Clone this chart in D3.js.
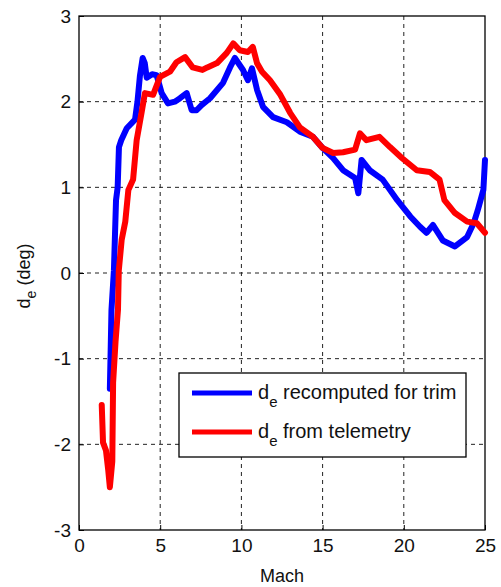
<!DOCTYPE html>
<html>
<head>
<meta charset="utf-8">
<script src="https://cdn.jsdelivr.net/npm/d3@7"></script>
<style>
  body { margin: 0; background: #fff; }
  text { font-family: "Liberation Sans", Arial, sans-serif; fill: #111; }
</style>
</head>
<body>
<div id="chart"></div>
<script>
// values
var blueMach = [1.9,1.95,2.0,2.15,2.28,2.38,2.46,2.6,2.94,3.45,3.6,3.75,3.92,4.05,4.17,4.5,4.78,5.09,5.48,5.9,6.22,6.63,6.94,7.24,7.55,8.07,8.87,9.3,9.6,10.1,10.4,10.65,10.96,11.33,11.95,12.8,13.6,14.4,15.0,15.65,16.26,17.0,17.2,17.4,17.9,18.7,19.6,20.4,21.0,21.4,21.8,22.4,23.15,23.9,24.3,24.55,24.9,25];
var blueDe   = [-1.35,-0.9,-0.43,0.03,0.85,1.0,1.47,1.55,1.69,1.79,2.0,2.3,2.51,2.45,2.28,2.32,2.31,2.1,1.98,2.0,2.04,2.1,1.9,1.9,1.96,2.04,2.22,2.4,2.51,2.37,2.25,2.39,2.14,1.94,1.82,1.76,1.65,1.59,1.46,1.34,1.2,1.11,0.93,1.32,1.2,1.09,0.85,0.66,0.54,0.47,0.56,0.38,0.31,0.42,0.58,0.73,0.97,1.32];

var redMach = [1.4,1.48,1.66,1.8,1.9,2.05,2.1,2.25,2.4,2.45,2.63,2.85,3.04,3.33,3.55,3.86,4.06,4.56,4.99,5.6,6.0,6.53,7.0,7.6,7.9,8.5,9.1,9.5,9.9,10.4,10.7,10.96,11.27,11.76,12.4,13.0,13.6,14.4,15.0,15.65,16.26,17.0,17.3,17.7,18.5,19.15,19.9,20.8,21.6,22.2,22.5,23.15,23.9,24.5,25];
var redDe   = [-1.54,-1.98,-2.07,-2.3,-2.5,-2.2,-1.28,-0.8,-0.43,0.03,0.39,0.6,0.97,1.09,1.55,1.88,2.1,2.08,2.29,2.35,2.46,2.52,2.4,2.37,2.4,2.45,2.57,2.68,2.6,2.58,2.64,2.45,2.35,2.25,2.08,1.87,1.7,1.59,1.46,1.4,1.41,1.44,1.63,1.55,1.59,1.47,1.34,1.2,1.18,1.09,0.85,0.7,0.6,0.58,0.47];

var xTicks = [0,5,10,15,20,25];
var yTicks = [-3,-2,-1,0,1,2,3];
var legendLabels = ["recomputed for trim", "from telemetry"];
var seriesColors = ["#0000ff", "#ff0000"];

var width = 501, height = 587;
var pLeft = 79, pRight = 485, pTop = 16, pBottom = 530;

var svg = d3.select("#chart").append("svg")
    .attr("width", width)
    .attr("height", height);

var x = d3.scaleLinear().domain([0, 25]).range([pLeft, pRight]);
var y = d3.scaleLinear().domain([-3, 3]).range([pBottom, pTop]);

//grid
svg.append("g").selectAll("line")
    .data(xTicks.slice(1, -1))
    .enter().append("line")
    .attr("x1", d => x(d)).attr("x2", d => x(d))
    .attr("y1", pTop).attr("y2", pBottom)
    .attr("stroke", "#222").attr("stroke-dasharray", "4,4");
svg.append("g").selectAll("line")
    .data(yTicks.slice(1, -1))
    .enter().append("line")
    .attr("y1", d => y(d)).attr("y2", d => y(d))
    .attr("x1", pLeft).attr("x2", pRight)
    .attr("stroke", "#222").attr("stroke-dasharray", "4,4");

//axes
var xAxis = svg.append("g")
    .attr("transform", "translate(0," + pBottom + ")")
    .call(d3.axisBottom(x).tickValues(xTicks).tickFormat(d => String(d)).tickSize(-5).tickPadding(9));
var yAxis = svg.append("g")
    .attr("transform", "translate(" + pLeft + ",0)")
    .call(d3.axisLeft(y).tickValues(yTicks).tickFormat(d => String(d)).tickSize(-5).tickPadding(8));
[xAxis, yAxis].forEach(function(a){
    a.select(".domain").remove();
    a.selectAll("line").attr("stroke", "#000");
    a.selectAll("text").attr("font-size", 19).attr("font-family", "Liberation Sans, Arial, sans-serif").attr("fill", "#111");
});

//box
svg.append("rect")
    .attr("x", pLeft).attr("y", pTop)
    .attr("width", pRight - pLeft).attr("height", pBottom - pTop)
    .attr("fill", "none").attr("stroke", "#000").attr("stroke-width", 1.3);

//lines
var line = d3.line()
    .x(d => x(d[0]))
    .y(d => y(d[1]));

var series = [
    d3.zip(blueMach, blueDe),
    d3.zip(redMach, redDe)
];

svg.append("g").selectAll("path")
    .data(series)
    .enter().append("path")
    .attr("d", line)
    .attr("fill", "none")
    .attr("stroke", (d, i) => seriesColors[i])
    .attr("stroke-width", 6)
    .attr("stroke-linejoin", "round")
    .attr("stroke-linecap", "round");

//labels
svg.append("text")
    .attr("x", (pLeft + pRight) / 2).attr("y", 582)
    .attr("text-anchor", "middle").attr("font-size", 18)
    .text("Mach");

var yl = svg.append("text")
    .attr("transform", "translate(30,276) rotate(-90)")
    .attr("text-anchor", "middle").attr("font-size", 18);
yl.append("tspan").text("d");
yl.append("tspan").attr("font-size", 14).attr("dy", 6).text("e");
yl.append("tspan").attr("dy", -6).text(" (deg)");

//legend
var legend = svg.append("g");
legend.append("rect")
    .attr("x", 179).attr("y", 373).attr("width", 287).attr("height", 84)
    .attr("fill", "#fff").attr("stroke", "#000").attr("stroke-width", 1.3);

var items = legend.selectAll(".item")
    .data(legendLabels)
    .enter().append("g")
    .attr("class", "item")
    .attr("transform", (d, i) => "translate(0," + (393 + i * 39) + ")");
items.append("line")
    .attr("x1", 192).attr("x2", 252)
    .attr("stroke", (d, i) => seriesColors[i])
    .attr("stroke-width", 5);
var lt = items.append("text")
    .attr("x", 258).attr("y", 6).attr("font-size", 20);
lt.append("tspan").text("d");
lt.append("tspan").attr("font-size", 15).attr("dy", 8).text("e");
lt.append("tspan").attr("dy", -8).text(d => " " + d);
</script>
</body>
</html>
